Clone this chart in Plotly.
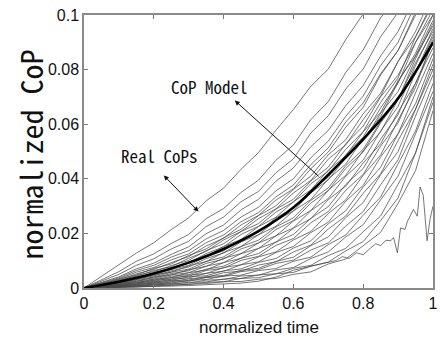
import plotly.graph_objects as go

# normalized time grid for the real CoP traces
t_grid = [0, .05, .1, .15, .2, .25, .3, .35, .4, .45, .5,
          .55, .6, .65, .7, .75, .8, .85, .9, .95, 1.0]

# real CoP traces, values in units of 1e-3 (normalized CoP)
real_cops_milli = [
    [0, 4.2, 8.3, 12.8, 16.6, 21.4, 25.7, 31.9, 36.6, 43.5, 49.6, 57.8, 65.4, 73.9, 80.2, 91, 100.4, 111, 119, 131, 140],
    [0, 3.1, 6, 9.8, 12.5, 16.3, 19.6, 25.4, 29.1, 35, 39.5, 46.8, 52.4, 61.7, 68.3, 78.9, 87.2, 99, 107, 120, 130],
    [0, 2.6, 5, 8.3, 10.7, 14.3, 17.1, 22.5, 26, 31.6, 35.4, 42.2, 47.3, 56.8, 63.1, 72.9, 80.2, 92, 101, 114, 125],
    [0, 2.1, 4.1, 7, 9.1, 12.3, 15.1, 19.9, 23.1, 28.6, 32.5, 39.1, 44, 51.8, 57.7, 66.8, 74.2, 85, 94, 107, 118],
    [0, 1.9, 3.7, 6.4, 8.3, 11.3, 13.7, 18, 21.1, 26, 29.6, 35.6, 40, 47.7, 53.8, 62.9, 70.3, 81.5, 90, 104, 115],
    [0, 1.7, 3.4, 5.8, 7.5, 10.3, 12.5, 16.6, 19.4, 24.3, 27.6, 33.4, 37.7, 45.2, 51.3, 60.8, 67.8, 78.5, 87, 100, 110],
    [0, 1.5, 3, 5.2, 6.8, 9.3, 11.5, 15.4, 18.2, 23.1, 26.6, 32.2, 36.3, 43.7, 49.8, 58.9, 66.2, 78, 87, 101, 112],
    [0, 1.3, 3.2, 4.8, 7.2, 8.8, 11.9, 14.3, 18.4, 21.5, 26.5, 30.1, 36.1, 41, 48.8, 54.3, 63.8, 71.3, 83, 92, 105],
    [0, 1.1, 2.8, 4.3, 6.4, 7.8, 10.9, 13.4, 17.6, 20.7, 25.4, 29, 34.8, 39.4, 47.2, 52.4, 61.7, 70.3, 83, 94, 108],
    [0, 1.3, 2.6, 4.6, 6, 8.2, 10.1, 13.7, 16.2, 20.7, 23.6, 28.9, 32.5, 39.2, 44.3, 52.8, 59.3, 70, 78, 90, 100],
    [0, 1.1, 2.2, 4, 5.2, 7.3, 9.1, 12.6, 15.1, 19.6, 22.6, 27.8, 31.5, 38.2, 42.8, 50.8, 57.3, 68, 77, 92, 104],
    [0, 0.9, 2.4, 3.6, 5.6, 6.8, 9.5, 11.5, 15.2, 17.8, 22.5, 25.9, 31.6, 35.9, 43.2, 48.4, 57.2, 64.3, 76, 85, 98],
    [0, 1, 2, 3.7, 4.8, 6.8, 8.3, 11.5, 13.6, 17.8, 20.5, 25.7, 29.2, 35.9, 40.6, 48.8, 55.3, 66, 75, 90, 102],
    [0, 0.9, 1.8, 3.4, 4.4, 6.3, 7.7, 10.8, 12.8, 16.9, 19.5, 24.7, 28.2, 34.9, 39.6, 47.8, 53.8, 64, 72, 85, 96],
    [0, 0.7, 2, 3.1, 4.8, 5.8, 8.1, 9.7, 13, 15.2, 19.5, 22.6, 28.2, 32.4, 39.9, 45.4, 54.7, 62.8, 75.5, 86, 100],
    [0, 0.8, 1.6, 3.1, 4, 5.8, 6.9, 9.7, 11.4, 15.2, 17.5, 22.4, 25.7, 32.1, 36.7, 44.8, 50.8, 61, 69, 82.5, 94],
    [0, 0.7, 1.4, 2.8, 3.6, 5.3, 6.3, 9, 10.6, 14.3, 16.5, 21.4, 24.7, 31.1, 35.7, 43.8, 49.8, 60.5, 69, 84, 97],
    [0, 0.5, 1.6, 2.4, 4, 4.8, 6.7, 7.9, 10.9, 12.6, 16.5, 19.1, 24.5, 28.4, 35.8, 41.3, 50.3, 57.2, 69, 78.5, 92],
    [0, 0.6, 1.2, 2.5, 3.2, 4.8, 5.6, 8, 9.3, 12.6, 14.5, 19.1, 22, 28.3, 32.8, 40.9, 46.8, 57.5, 66.5, 81.5, 95],
    [0, 0.4, 1.3, 1.9, 3.2, 3.8, 5.6, 6.6, 9.3, 10.9, 14.5, 16.8, 21.9, 25.4, 32.4, 37.3, 45.8, 52.8, 64.5, 75, 90],
    [0, 0.6, 1.1, 2.2, 2.8, 4.3, 4.9, 6.9, 8, 10.9, 12.6, 16.8, 19.6, 25.5, 29.8, 37.9, 43.8, 54.5, 63.5, 79, 93],
    [0, 0.5, 0.9, 1.9, 2.4, 3.8, 4.3, 6.4, 7.3, 10.1, 11.6, 15.6, 18.1, 23.9, 28, 35.8, 41.6, 52, 60.5, 75, 88],
    [0, 0.3, 1.1, 1.6, 2.8, 3.3, 4.7, 5.3, 7.5, 8.5, 11.4, 13.2, 17.6, 20.7, 27.3, 32.3, 41.3, 48.7, 61.5, 73.5, 91],
    [0, 0.4, 0.7, 1.6, 2, 3.2, 3.7, 5.4, 6.1, 8.5, 9.6, 13, 15.2, 20.3, 24.1, 31.8, 37.6, 48, 56.5, 71.5, 86],
    [0, 0.2, 0.9, 1.3, 2.3, 2.8, 4.1, 4.5, 6.3, 7, 9.4, 10.8, 14.6, 17.3, 23.5, 28.3, 37, 44.2, 56.5, 67.5, 84],
    [0, 0.2, 0.8, 1.1, 1.9, 2.3, 3.4, 3.9, 5.6, 6.2, 8.4, 9.6, 13.2, 15.7, 21.6, 26.4, 34.7, 41.8, 54, 65.5, 82],
    [0, 0.4, 0.6, 1.3, 1.7, 2.7, 2.9, 4.2, 4.6, 6.5, 7.2, 9.7, 11.3, 15.5, 18.7, 25.8, 31.3, 41.5, 50, 65.5, 80],
    [0, 0.3, 0.4, 1, 1.3, 2.2, 2.5, 3.8, 4.2, 6, 6.7, 9, 10.2, 13.9, 16.5, 22.7, 28, 37.8, 47, 63, 78],
    [0, 0.1, 0.6, 0.8, 1.5, 1.8, 2.8, 3.1, 4.4, 4.7, 6.4, 7.1, 9.8, 11.3, 15.9, 19.4, 26.7, 33.3, 45.5, 57.5, 75],
    [0, 0.2, 0.3, 0.8, 1, 1.7, 1.8, 2.9, 3.1, 4.4, 4.7, 6.6, 7.5, 10.8, 13.2, 18.7, 23.2, 32.3, 41, 56.5, 72],
    [0, 0.1, 0.5, 0.6, 1.2, 1.4, 2.1, 2.2, 3.3, 3.5, 4.8, 5.2, 7.2, 8.3, 11.9, 14.5, 20.6, 26.4, 38, 49.5, 68],
    [0, 0.2, 0.2, 0.6, 0.6, 1.2, 1.3, 2.1, 2.3, 3.5, 3.8, 5.2, 5.7, 8, 9.5, 13.6, 17, 24.7, 33, 49.5, 70],
    [0, 0.1, 0.3, 0.4, 0.8, 0.9, 1.4, 1.6, 2.3, 2.4, 3.2, 3.5, 5, 5.9, 8.8, 10.6, 15.5, 20.4, 31, 43, 65],
]

# the one late, noisy outlier trace
outlier_t = [0, .05, .1, .15, .2, .25, .3, .35, .4, .45, .5, .55, .6, .65, .7, .723, .74, .76,
             .78, .8, .82, .836, .85, .865, .879, .887, .898, .907, .92, .927, .944, .955,
             .963, .972, .983, .992, 1.0]
outlier_milli = [0, 0.1, 0.2, 0.4, 0.5, 0.7, 0.9, 1.2, 1.5, 1.8, 2.5, 4, 6.5, 8, 9.5, 10.1, 11.5, 10.8,
                 12.9, 12.2, 14.5, 16.2, 15.5, 17.5, 17.3, 18.5, 12.9, 22, 21.5, 24.5, 28.8, 26.3,
                 37, 34, 17.3, 25.5, 30]

# CoP model curve
model_t = [0, .1, .2, .3, .4, .5, .6, .7, .8, .9, 1.0]
model_cop = [0, 0.0023, 0.0053, 0.0093, 0.0143, 0.0208, 0.0295, 0.0415, 0.0545, 0.0695, 0.090]

x_ticks = [0, 0.2, 0.4, 0.6, 0.8, 1.0]
x_tick_labels = ["0", "0.2", "0.4", "0.6", "0.8", "1"]
y_ticks = [0, 0.02, 0.04, 0.06, 0.08, 0.1]
y_tick_labels = ["0", "0.02", "0.04", "0.06", "0.08", "0.1"]

fig = go.Figure()
gray = "#4a4a4a"
for vals in real_cops_milli:
    fig.add_trace(go.Scatter(x=t_grid, y=[v / 1000 for v in vals], mode="lines",
                             line=dict(color=gray, width=0.75), showlegend=False, hoverinfo="skip"))
fig.add_trace(go.Scatter(x=outlier_t, y=[v / 1000 for v in outlier_milli], mode="lines",
                         line=dict(color=gray, width=0.75), showlegend=False, hoverinfo="skip"))
fig.add_trace(go.Scatter(x=model_t, y=model_cop, mode="lines", line=dict(color="black", width=2.6, shape="spline"),
                         showlegend=False, hoverinfo="skip"))

label_font = dict(family="Noto Sans Mono CJK JP, DejaVu Sans Mono, monospace", size=17, color="#111")
tick_font = dict(family="Liberation Sans, Arial, sans-serif", size=16, color="#111")

fig.update_layout(
    width=445, height=345,
    margin=dict(l=84, r=7, t=10, b=57),
    paper_bgcolor="white", plot_bgcolor="white",
    xaxis=dict(range=[0, 1], tickvals=x_ticks, ticktext=x_tick_labels, ticks="inside", ticklen=4,
               tickcolor="#777", showline=True, linecolor="#8a8a8a", linewidth=1.5, mirror="ticks",
               showgrid=False, zeroline=False, tickfont=tick_font),
    yaxis=dict(range=[0, 0.1], tickvals=y_ticks, ticktext=y_tick_labels, ticks="inside", ticklen=4,
               tickcolor="#777", showline=True, linecolor="#8a8a8a", linewidth=1.5, mirror="ticks",
               showgrid=False, zeroline=False, tickfont=tick_font),
    annotations=[
        dict(text="normalized time", xref="paper", yref="paper", x=0.5, y=-0.144, showarrow=False,
             font=dict(family="Liberation Sans, Arial, sans-serif", size=17, color="#111"),
             xanchor="center", yanchor="middle"),
        dict(text="normalized CoP", xref="paper", yref="paper", x=-0.155, y=0.489, showarrow=False,
             textangle=-90, font=dict(family="Noto Sans Mono CJK JP, DejaVu Sans Mono, monospace", size=30, color="#111"),
             xanchor="center", yanchor="middle"),
        dict(text="CoP Model", x=0.359, y=0.0737, showarrow=False, font=label_font,
             xanchor="center", yanchor="middle"),
        dict(text="Real CoPs", x=0.215, y=0.0486, showarrow=False, font=label_font,
             xanchor="center", yanchor="middle"),
        dict(text=" ", x=0.432, y=0.0687, ax=0.681, ay=0.0399, axref="x", ayref="y",
             showarrow=True, arrowhead=2, arrowsize=1, arrowwidth=1, arrowcolor="#111", standoff=0),
        dict(text=" ", x=0.328, y=0.028, ax=0.22, ay=0.0424, axref="x", ayref="y",
             showarrow=True, arrowhead=2, arrowside="end+start", arrowsize=1, arrowwidth=1,
             arrowcolor="#111", standoff=0, startstandoff=0),
    ],
)

fig.write_html("out.html")
